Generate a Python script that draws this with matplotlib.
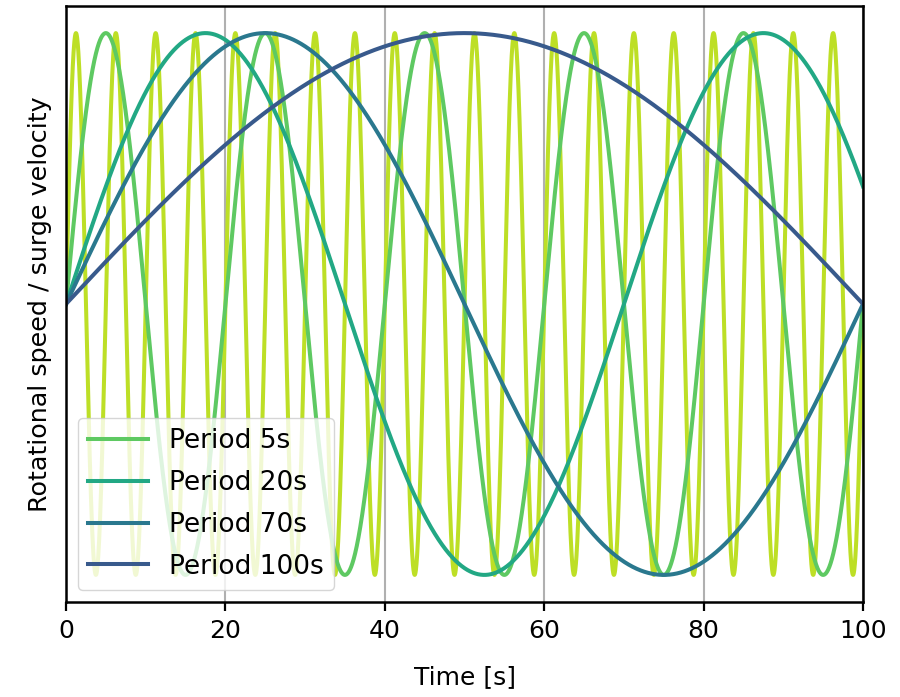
import numpy as np
import matplotlib
matplotlib.use("Agg")
import matplotlib.pyplot as plt

periods = [5, 20, 70, 100, 200]
line_colors = ["#bddf26", "#5ec962", "#22a884", "#2a788e", "#385a8c"]
legend_labels = ["Period 5s", "Period 20s", "Period 70s", "Period 100s"]
x_ticks = [0, 20, 40, 60, 80, 100]

plt.rcParams['font.family'] = ['DejaVu Sans']
plt.rcParams['font.size'] = 18

fig = plt.figure(figsize=(9, 6.97), dpi=100)
ax = fig.add_axes([66/900, 1 - 602/697, (863-66)/900, (602-6)/697])

t = np.linspace(0, 100, 4001)
lines = []
for p, c in zip(periods, line_colors):
    ln, = ax.plot(t, np.sin(2 * np.pi * t / p), color=c, lw=2.9)
    lines.append(ln)

ax.set_xlim(0, 100)
ax.set_ylim(-1.1, 1.1)
ax.set_xticks(x_ticks)
ax.set_yticks([])
ax.grid(axis='x', color='#b0b0b0', lw=1.5)
for s in ax.spines.values():
    s.set_linewidth(1.8)
ax.tick_params(axis='x', width=1.6, length=6.5, pad=6, labelsize=18)
ax.set_xlabel("Time [s]", fontsize=18, labelpad=16)
ax.set_ylabel("Rotational speed / surge velocity", fontsize=18.3, labelpad=10)
ax.legend(lines[1:], legend_labels, loc='lower left', fontsize=19,
          labelspacing=0.6, handlelength=2.25, borderaxespad=0.45)

fig.savefig("out.png", dpi=100)
